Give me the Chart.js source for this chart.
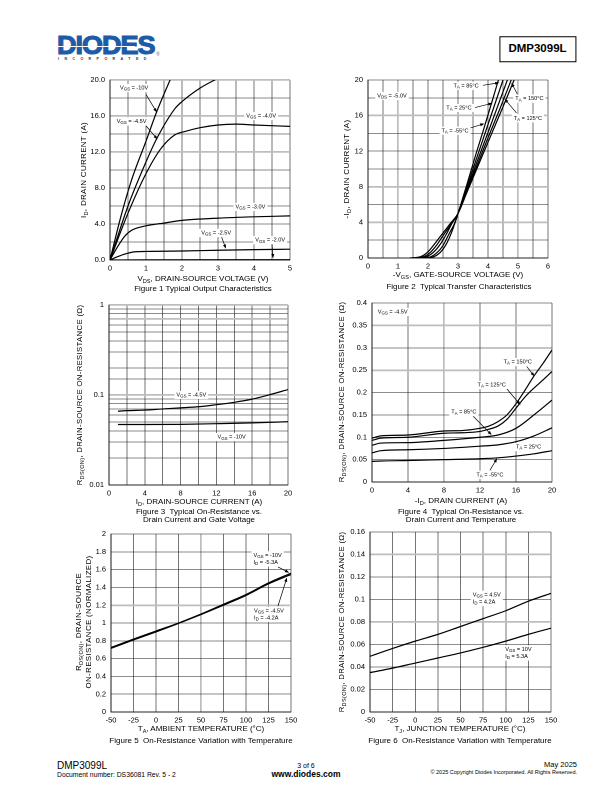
<!DOCTYPE html>
<html>
<head>
<meta charset="utf-8">
<script src="https://cdn.jsdelivr.net/npm/chart.js@4.4.1/dist/chart.umd.min.js"></script>
<style>
body{margin:0;background:#fff;font-family:"Liberation Sans",Arial,sans-serif;color:#000}
#page{position:relative;width:612px;height:792px;overflow:hidden}
.t{position:absolute;white-space:nowrap;transform:translate(-50%,-50%);font-size:8px;line-height:1}
.v{transform:translate(-50%,-50%) rotate(-90deg);letter-spacing:0.3px}
.l{transform:translate(0,-50%)}
.r{transform:translate(-100%,-50%)}
sub{font-size:5.6px;vertical-align:-1.5px;line-height:0}
canvas{position:absolute}
</style>
</head>
<body>
<div id="page"></div>
<script>
// Figure 1 - output characteristics [V_DS, I_D]
var fig1Vgs10 = [[0,0],[0.3,4.8],[0.6,8.9],[1.0,13.2],[1.3,16.5],[1.7,20.3]]
var fig1Vgs45 = [[0,0],[0.5,6.0],[1.0,10.9],[1.3,13.5],[1.8,16.8],[2.0,17.6],[2.5,19.1],[3.0,20.2]]
var fig1Vgs40 = [[0,0],[0.5,5.2],[1.0,9.6],[1.4,12.3],[1.8,13.9],[2.1,14.3],[2.5,14.7],[3.0,15.0],[3.5,15.1],[4.0,15.0],[5.0,14.85]]
var fig1Vgs30 = [[0,0],[0.2,1.4],[0.4,2.6],[0.6,3.3],[1.0,3.8],[1.5,4.1],[2.0,4.4],[3.0,4.65],[4.0,4.8],[5.0,4.9]]
var fig1Vgs25 = [[0,0],[0.2,0.35],[0.4,0.65],[0.7,0.92],[1.0,0.95],[2.0,1.0],[3.0,1.08],[4.0,1.15],[5.0,1.2]]
var fig1Vgs20 = [[0,0],[1,0.01],[5,0.03]]

// Figure 2 - transfer characteristics [-V_GS, -I_D]
var fig2Tm55 = [[1.95,0],[2.2,0.15],[2.4,0.6],[2.6,1.5],[2.8,3.0],[3.0,5.0],[3.3,8.3],[3.6,11.7],[3.85,14.4],[4.1,17.2],[4.4,20.6]]
var fig2T25 = [[1.8,0],[2.1,0.15],[2.3,0.6],[2.5,1.4],[2.7,2.7],[2.9,4.0],[3.0,5.0],[3.3,8.0],[3.6,11.0],[4.0,15.0],[4.3,18.0],[4.55,20.5]]
var fig2T85 = [[1.65,0],[1.95,0.15],[2.2,0.7],[2.4,1.5],[2.6,2.6],[2.8,3.9],[3.0,5.0],[3.3,7.7],[3.6,10.5],[4.0,14.1],[4.35,17.3],[4.7,20.5]]
var fig2T125 = [[1.5,0],[1.85,0.15],[2.1,0.7],[2.3,1.5],[2.5,2.5],[2.8,3.95],[3.0,5.0],[3.3,7.55],[3.6,10.1],[4.0,13.5],[4.4,16.8],[4.82,20.4]]
var fig2T150 = [[1.4,0],[1.75,0.15],[2.0,0.7],[2.2,1.5],[2.45,2.6],[2.75,3.9],[3.0,5.0],[3.3,7.4],[3.6,9.8],[4.0,13.0],[4.25,15.0],[4.6,17.8],[4.92,20.4]]

// Figure 3 - R_DS(ON) vs I_D (log)
var fig3Vgs45 = [[1,0.066],[2,0.067],[4,0.068],[6,0.070],[8,0.072],[10,0.074],[12,0.078],[14,0.083],[16,0.090],[18,0.101],[20,0.115]]
var fig3Vgs10 = [[1,0.047],[4,0.047],[8,0.0472],[12,0.048],[16,0.049],[20,0.0505]]

// Figure 4 - R_DS(ON) vs I_D and temperature
var fig4T150 = [[0,0.098],[1,0.103],[4,0.105],[8,0.114],[10,0.115],[12,0.12],[13,0.125],[14,0.135],[15,0.15],[16,0.175],[17,0.205],[18,0.237],[19,0.265],[20,0.295]]
var fig4T125 = [[0,0.093],[1,0.098],[4,0.1],[8,0.109],[10,0.11],[12,0.113],[13,0.118],[14,0.125],[15,0.14],[16,0.165],[17,0.19],[18,0.21],[19,0.228],[20,0.247]]
var fig4T85 = [[0,0.082],[1,0.087],[4,0.088],[8,0.093],[12,0.1],[14,0.105],[16,0.12],[18,0.15],[20,0.183]]
var fig4T25 = [[0,0.065],[1,0.07],[4,0.072],[8,0.075],[12,0.08],[14,0.083],[16,0.09],[18,0.103],[20,0.121]]
var fig4Tm55 = [[0,0.046],[1,0.047],[4,0.048],[8,0.05],[12,0.052],[14,0.054],[16,0.058],[18,0.063],[20,0.07]]

// Figure 5 - normalized R_DS(ON) vs T_A
var fig5Temp = [-50,-25,0,25,50,75,100,125,150]
var fig5Vgs10 = [0.725,0.82,0.91,1.0,1.1,1.21,1.32,1.45,1.56]
var fig5Vgs45 = [0.715,0.81,0.9,0.995,1.095,1.2,1.31,1.44,1.545]

// Figure 6 - R_DS(ON) vs T_J
var fig6Temp = [-50,-25,0,25,50,75,100,125,150]
var fig6Vgs45 = [0.0495,0.0565,0.063,0.069,0.076,0.083,0.09,0.0985,0.1055]
var fig6Vgs10 = [0.035,0.039,0.0435,0.048,0.0525,0.0575,0.063,0.069,0.0745]

var page = document.getElementById('page')
Chart.defaults.font.family = '"Liberation Sans", Arial, sans-serif'
Chart.defaults.font.size = 7.5
Chart.defaults.color = '#000'

function pairs(a){ return a.map(function(p){ return {x:p[0], y:p[1]} }) }
function zip(xs, ys){ return xs.map(function(x,i){ return {x:x, y:ys[i]} }) }

function label(html, x, y, cls, size, bold){
	var d = document.createElement('div')
	d.className = 't ' + (cls || '')
	d.style.left = x + 'px'
	d.style.top = y + 'px'
	if(size) d.style.fontSize = size + 'px'
	if(bold) d.style.fontWeight = 'bold'
	d.innerHTML = html
	page.appendChild(d)
	return d
}

function richParts(s){
	var out = [], re = /_\{([^}]*)\}/g, last = 0, m
	while((m = re.exec(s))){
		if(m.index > last) out.push([s.slice(last, m.index), 0])
		out.push([m[1], 1])
		last = re.lastIndex
	}
	if(last < s.length) out.push([s.slice(last), 0])
	return out
}

function drawRich(c, text, cx, cy){
	var lines = text.split('\n'), lh = 7.2, big = '5.6px "Liberation Sans", Arial', small = '4.4px "Liberation Sans", Arial'
	var parsed = lines.map(function(l){
		var parts = richParts(l), w = 0
		parts.forEach(function(p){ c.font = p[1] ? small : big; p.push(c.measureText(p[0]).width); w += p[2] })
		return {parts:parts, w:w}
	})
	var maxW = Math.max.apply(null, parsed.map(function(p){ return p.w }))
	var h = lines.length * lh
	c.fillStyle = '#fff'
	c.fillRect(cx - maxW/2 - 2, cy - h/2 - 0.5, maxW + 4, h + 1)
	c.fillStyle = '#000'
	c.textBaseline = 'middle'
	c.textAlign = 'left'
	parsed.forEach(function(p, i){
		var x = cx - maxW/2, y = cy - h/2 + lh*(i + 0.5)
		p.parts.forEach(function(q){
			c.font = q[1] ? small : big
			c.fillText(q[0], x, y + (q[1] ? 1.4 : 0))
			x += q[2]
		})
	})
}

function drawArrow(c, x1, y1, x2, y2){
	var a = Math.atan2(y2 - y1, x2 - x1), s = 4.5
	c.strokeStyle = '#000'
	c.lineWidth = 0.7
	c.beginPath(); c.moveTo(x1, y1); c.lineTo(x2 - Math.cos(a)*s*0.8, y2 - Math.sin(a)*s*0.8); c.stroke()
	c.fillStyle = '#000'
	c.beginPath()
	c.moveTo(x2, y2)
	c.lineTo(x2 - Math.cos(a - 0.35)*s, y2 - Math.sin(a - 0.35)*s)
	c.lineTo(x2 - Math.cos(a + 0.35)*s, y2 - Math.sin(a + 0.35)*s)
	c.closePath(); c.fill()
}

function notesPlugin(notes){
	return {id:'notes', afterDatasetsDraw:function(chart){
		var c = chart.ctx, xs = chart.scales.x, ys = chart.scales.y
		c.save()
		notes.forEach(function(n){
			if(n.arrow) drawArrow(c, xs.getPixelForValue(n.arrow[0]), ys.getPixelForValue(n.arrow[1]), xs.getPixelForValue(n.arrow[2]), ys.getPixelForValue(n.arrow[3]))
		})
		notes.forEach(function(n){
			if(n.text) drawRich(c, n.text, xs.getPixelForValue(n.x), ys.getPixelForValue(n.y))
		})
		c.restore()
	}}
}

function near(v, list){
	return (list || []).some(function(g){ return Math.abs(v - g) < Math.abs(g)*1e-6 + 1e-9 })
}

function axis(pos, o){
	var grey = function(c){ return c.tick && near(c.tick.value, o.grey) }
	return {
		type: o.log ? 'logarithmic' : 'linear',
		position: pos, min: o.min, max: o.max,
		afterFit: function(s){ if(pos == 'left') s.width = 40; else s.height = 16 },
		ticks: {stepSize:o.step, autoSkip:false, maxRotation:0, padding: pos == 'left' ? 5 : 4, color:'#000', font:{size:7.5}, callback:o.label},
		grid: {drawTicks:false, color:function(c){ return grey(c) ? '#bdbdbd' : '#1a1a1a' }, lineWidth:function(c){ return grey(c) ? 1.7 : 0.6 }},
		border: {display:true, color:'#000', width:0.8}
	}
}

function makeChart(rect, xo, yo, sets, notes){
	var cv = document.createElement('canvas')
	var W = rect[2] - rect[0] + 52, H = rect[3] - rect[1] + 26
	cv.width = W; cv.height = H
	cv.style.width = W + 'px'; cv.style.height = H + 'px'
	cv.style.left = (rect[0] - 40) + 'px'
	cv.style.top = (rect[1] - 10) + 'px'
	page.appendChild(cv)
	return new Chart(cv, {
		type: 'line',
		data: {datasets: sets.map(function(d){
			return {data:d, borderColor:'#000', borderWidth:1.2, pointRadius:0, fill:false, cubicInterpolationMode:'monotone'}
		})},
		options: {
			responsive:false, animation:false, devicePixelRatio:2,
			layout: {padding:{left:0, top:10, right:12, bottom:0}},
			plugins: {legend:{display:false}, tooltip:{enabled:false}, title:{display:false}},
			scales: {x:axis('bottom', xo), y:axis('left', yo)}
		},
		plugins: [notesPlugin(notes)]
	})
}

function every(n, fmt){ return function(v){ return Math.abs(v/n - Math.round(v/n)) < 1e-6 ? fmt(v) : '' } }
function plain(v){ return String(+v.toFixed(3)) }

// Figure 1
makeChart([110,80,290,260],
	{min:0, max:5, step:0.5, label:every(1, plain)},
	{min:0, max:20, step:2, grey:[20,16,12], label:every(4, function(v){ return v.toFixed(1) })},
	[pairs(fig1Vgs10), pairs(fig1Vgs45), pairs(fig1Vgs40), pairs(fig1Vgs30), pairs(fig1Vgs25), pairs(fig1Vgs20)],
	[{x:0.67, y:19.1, text:'V_{GS} = -10V', arrow:[1.0,18.4,1.3,16.4]},
	 {x:0.6, y:15.4, text:'V_{GS} = -4.5V', arrow:[1.0,14.9,1.32,13.4]},
	 {x:4.2, y:16.0, text:'V_{GS} = -4.0V'},
	 {x:3.9, y:5.9, text:'V_{GS} = -3.0V'},
	 {x:2.95, y:3.0, text:'V_{GS} = -2.5V', arrow:[3.1,2.55,3.22,1.25]},
	 {x:4.45, y:2.2, text:'V_{GS} = -2.0V', arrow:[4.5,1.8,4.53,0.2]}])

// Figure 2
makeChart([368,80,548,258],
	{min:0, max:6, step:0.5, grey:[1,5], label:every(1, plain)},
	{min:0, max:20, step:2, grey:[16,8,4], label:every(4, plain)},
	[pairs(fig2Tm55), pairs(fig2T25), pairs(fig2T85), pairs(fig2T125), pairs(fig2T150)],
	[{x:0.8, y:18.2, text:'V_{DS} = -5.0V'},
	 {x:3.27, y:19.35, text:'T_{A} = 85°C', arrow:[3.83,19.4,4.38,19.7]},
	 {x:3.03, y:16.85, text:'T_{A} = 25°C', arrow:[3.57,16.9,4.15,17.4]},
	 {x:2.9, y:14.3, text:'T_{A} = -55°C', arrow:[3.4,14.6,3.88,15.1]},
	 {x:5.38, y:17.9, text:'T_{A} = 150°C', arrow:[4.98,18.4,4.78,19.7]},
	 {x:5.33, y:15.7, text:'T_{A} = 125°C', arrow:[4.95,16.3,4.55,17.9]}])

// Figure 3
makeChart([109,305,288,485],
	{min:0, max:20, step:2, label:every(4, plain)},
	{log:true, min:0.01, max:1, grey:[1,0.7,0.1], label:function(v){ return near(v, [0.01,0.1,1]) ? plain(v) : '' }},
	[pairs(fig3Vgs45), pairs(fig3Vgs10)],
	[{x:9.2, y:0.1, text:'V_{GS} = -4.5V'},
	 {x:13.7, y:0.034, text:'V_{GS} = -10V'}])

// Figure 4
makeChart([372,303,552,482],
	{min:0, max:20, step:4, grey:[8], label:plain},
	{min:0, max:0.4, step:0.05, grey:[0.35,0.25], label:plain},
	[pairs(fig4T150), pairs(fig4T125), pairs(fig4T85), pairs(fig4T25), pairs(fig4Tm55)],
	[{x:2.3, y:0.38, text:'V_{GS} = -4.5V'},
	 {x:16.2, y:0.268, text:'T_{A} = 150°C', arrow:[17.2,0.258,18.05,0.236]},
	 {x:13.3, y:0.217, text:'T_{A} = 125°C', arrow:[14.9,0.21,16.5,0.172]},
	 {x:10.2, y:0.156, text:'T_{A} = 85°C', arrow:[11.1,0.15,13.3,0.105]},
	 {x:17.4, y:0.078, text:'T_{A} = 25°C'},
	 {x:13.1, y:0.016, text:'T_{A} = -55°C', arrow:[13.1,0.026,13.9,0.053]}])

// Figure 5
makeChart([111,534,291,712],
	{min:-50, max:150, step:25, grey:[50], label:plain},
	{min:0, max:2, step:0.2, grey:[1.2], label:plain},
	[zip(fig5Temp, fig5Vgs10), zip(fig5Temp, fig5Vgs45)],
	[{x:135.5, y:1.63, arrow:[135.5,1.63,148,1.565]},
	 {x:135.5, y:1.19, arrow:[135.5,1.19,145.5,1.51]},
	 {x:124, y:1.72, text:'V_{GS} = -10V\nI_{D} = -5.3A'},
	 {x:125.5, y:1.095, text:'V_{GS} = -4.5V\nI_{D} = -4.2A'}])

// Figure 6
makeChart([370,532,551,712],
	{min:-50, max:150, step:25, label:plain},
	{min:0, max:0.16, step:0.02, grey:[0.14,0.08], label:plain},
	[zip(fig6Temp, fig6Vgs45), zip(fig6Temp, fig6Vgs10)],
	[{x:79, y:0.101, text:'V_{GS} = 4.5V\nI_{D} = 4.2A'},
	 {x:114, y:0.0525, text:'V_{GS} = 10V\nI_{D} = 5.3A'}])

// axis titles and captions
label('I<sub>D</sub>, DRAIN CURRENT (A)', 84, 170, 'v')
label('V<sub>DS</sub>, DRAIN-SOURCE VOLTAGE (V)', 203, 279)
label('Figure 1 Typical Output Characteristics', 203, 289)

label('-I<sub>D</sub>, DRAIN CURRENT (A)', 347, 169, 'v')
label('-V<sub>GS</sub>, GATE-SOURCE VOLTAGE (V)', 458, 275)
label('Figure 2&nbsp; Typical Transfer Characteristics', 459, 287)

label('R<sub>DS(ON)</sub>, DRAIN-SOURCE ON-RESISTANCE (&Omega;)', 80, 395, 'v', 7.8)
label('I<sub>D</sub>, DRAIN-SOURCE CURRENT (A)', 199, 502)
label('Figure 3&nbsp; Typical On-Resistance vs.', 199, 512)
label('Drain Current and Gate Voltage', 199, 520)

label('R<sub>DS(ON)</sub>, DRAIN-SOURCE ON-RESISTANCE (&Omega;)', 342, 392, 'v', 7.8)
label('-I<sub>D</sub>, DRAIN CURRENT (A)', 461, 501)
label('Figure 4&nbsp; Typical On-Resistance vs.', 461, 512)
label('Drain Current and Temperature', 461, 520)

label('R<sub>DS(ON)</sub>, DRAIN-SOURCE', 79, 622, 'v')
label('ON-RESISTANCE (NORMALIZED)', 89, 622, 'v')
label('T<sub>A</sub>, AMBIENT TEMPERATURE (&deg;C)', 201, 729)
label('Figure 5&nbsp; On-Resistance Variation with Temperature', 201, 741)

label('R<sub>DS(ON)</sub>, DRAIN-SOURCE ON-RESISTANCE (&Omega;)', 342, 622, 'v', 7.8)
label('T<sub>J</sub>, JUNCTION TEMPERATURE (&deg;C)', 460, 729)
label('Figure 6&nbsp; On-Resistance Variation with Temperature', 460, 741)

// header
var logo = label('DIODES', 57, 45, 'l', 26, true)
logo.style.color = '#1d5ba6'
logo.style.letterSpacing = '-1px'
logo.style.webkitTextStroke = '1.1px #1d5ba6'
logo.style.transform = 'translate(0,-50%) scaleX(1.04)'
logo.style.transformOrigin = 'left center'
var stripe = document.createElement('div')
stripe.style.cssText = 'position:absolute;left:57px;top:46px;width:78px;height:1px;background:#fff'
page.appendChild(stripe)
var reg = label('&reg;', 158, 55, '', 4.5)
reg.style.color = '#1d5ba6'
var inc = label('INCORPORATED', 58, 60, 'l', 3.6, true)
inc.style.letterSpacing = '5.4px'
inc.style.color = '#333'
var box = label('DMP3099L', 537.5, 49, '', 11.5, true)
box.style.border = '1px solid #000'
box.style.padding = '6px 8.5px'

// footer
label('DMP3099L', 57, 766, 'l', 10)
label('Document number: DS36081 Rev. 5 - 2', 57, 775, 'l', 6.8)
label('3 of 6', 306, 765, '', 7)
label('www.diodes.com', 306, 774, '', 8.5, true)
label('May 2025', 577, 765, 'r', 7.5)
label('&copy; 2025 Copyright Diodes Incorporated. All Rights Reserved.', 577, 773, 'r', 5.5)
</script>
</body>
</html>
